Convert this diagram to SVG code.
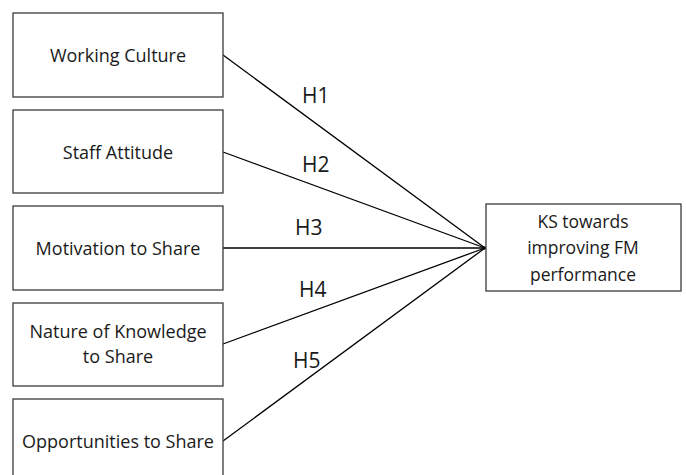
<svg xmlns="http://www.w3.org/2000/svg" width="686" height="475" viewBox="0 0 686 475">
<style>
.box{fill:#fff;stroke:#3a3a3a;stroke-width:1.3}
.t{font-family:"Open Sans","Liberation Sans",sans-serif;font-size:18px;fill:#1a1a1a;text-anchor:middle}
.tk{font-family:"Open Sans","Liberation Sans",sans-serif;font-size:17.5px;fill:#1a1a1a;text-anchor:middle}
.h{font-family:"Open Sans","Liberation Sans",sans-serif;font-size:21px;fill:#1a1a1a}
.c{stroke:#000;stroke-width:1.3;fill:none}
</style>
<rect width="686" height="475" fill="#fff"/>
<g id="connectors">
<line class="c" x1="223" y1="55" x2="485" y2="248"/>
<line class="c" x1="223" y1="152" x2="485" y2="248"/>
<line class="c" x1="223" y1="248" x2="485" y2="248"/>
<line class="c" x1="223" y1="344" x2="485" y2="248"/>
<line class="c" x1="223" y1="441" x2="485" y2="248"/>
<circle cx="484" cy="248" r="1.8" fill="#000"/>
<text class="h" x="302" y="103">H1</text>
<text class="h" x="302" y="172">H2</text>
<text class="h" x="295" y="235">H3</text>
<text class="h" x="299" y="297">H4</text>
<text class="h" x="293" y="368">H5</text>
</g>
<g id="n1"><rect class="box" x="13" y="13" width="210" height="84"/><text class="t" x="118" y="62">Working Culture</text></g>
<g id="n2"><rect class="box" x="13" y="110" width="210" height="83"/><text class="t" x="118" y="159">Staff Attitude</text></g>
<g id="n3"><rect class="box" x="13" y="206" width="210" height="84"/><text class="t" x="118" y="255">Motivation to Share</text></g>
<g id="n4"><rect class="box" x="13" y="303" width="210" height="83"/><text class="t" x="118" y="338">Nature of Knowledge</text><text class="t" x="118" y="363">to Share</text></g>
<g id="n5"><rect class="box" x="13" y="399" width="210" height="84"/><text class="t" x="118" y="448">Opportunities to Share</text></g>
<g id="target"><rect class="box" x="486" y="204" width="195" height="87"/><text class="tk" x="583" y="228">KS towards</text><text class="tk" x="583" y="254">improving FM</text><text class="tk" x="583" y="281">performance</text></g>
</svg>
